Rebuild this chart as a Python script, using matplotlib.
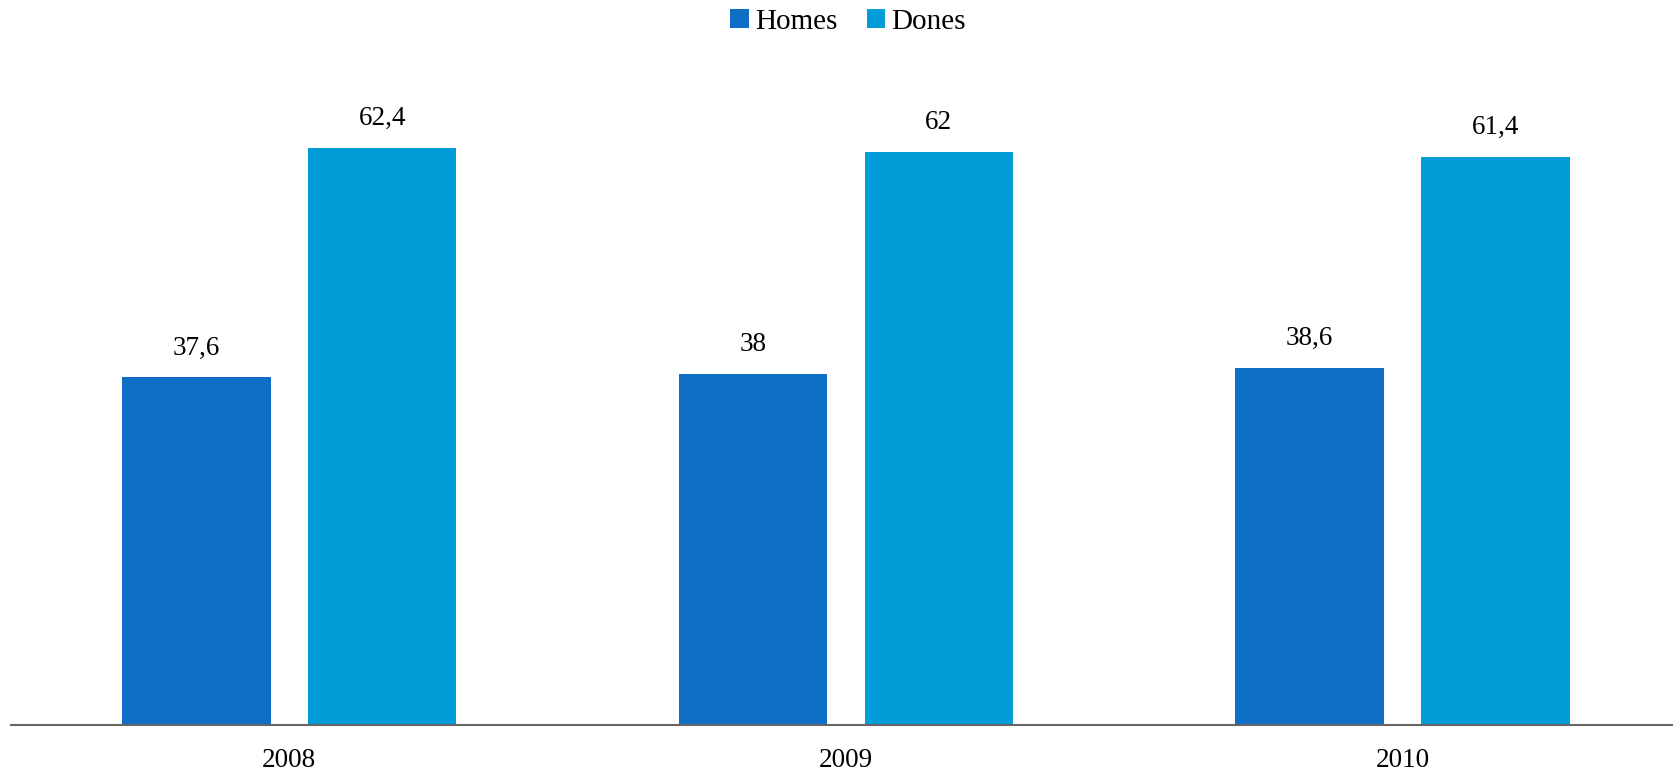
import matplotlib.pyplot as plt
import numpy as np

years = ['2008', '2009', '2010']
homes = [37.6, 38, 38.6]
dones = [62.4, 62, 61.4]

plt.rcParams['font.family'] = ['Liberation Serif', 'DejaVu Serif']

def fmt(v):
    # comma as decimal separator, no trailing .0
    s = ('%g' % v).replace('.', ',')
    return s

fig = plt.figure(figsize=(16.73, 7.74), dpi=100)
ax = fig.add_axes([11 / 1673, 49 / 774, 1 - 11 / 1673, 647.5 / 774])

x = np.arange(len(years))
w = 0.2667
off = 0.167
b1 = ax.bar(x - off, homes, w, color='#0F6FC6', label='Homes')
b2 = ax.bar(x + off, dones, w, color='#009DD9', label='Dones')

for bars, vals in [(b1, homes), (b2, dones)]:
    for r, v in zip(bars, vals):
        ax.annotate(fmt(v), (r.get_x() + r.get_width() / 2, r.get_height()),
                    xytext=(0, 12), textcoords='offset points',
                    ha='center', va='bottom', fontsize=19.5, color='black')

ax.set_xlim(-0.5, 2.486)
ax.set_ylim(0, 70)
ax.set_xticks(x)
ax.set_xticklabels(years, fontsize=19.5)
ax.tick_params(axis='x', length=0, pad=16.5)
ax.set_yticks([])
for s in ['top', 'right', 'left']:
    ax.spines[s].set_visible(False)
ax.spines['bottom'].set_color('#666666')
ax.spines['bottom'].set_linewidth(1.5)

fig.legend(handles=[b1, b2], labels=['Homes', 'Dones'], loc='center',
           bbox_to_anchor=(848 / 1673, 1 - 22 / 774), ncol=2, frameon=False,
           fontsize=21, handlelength=0.65, handleheight=0.65,
           handletextpad=0.2, columnspacing=1.0)

plt.savefig('out.png', dpi=100)
